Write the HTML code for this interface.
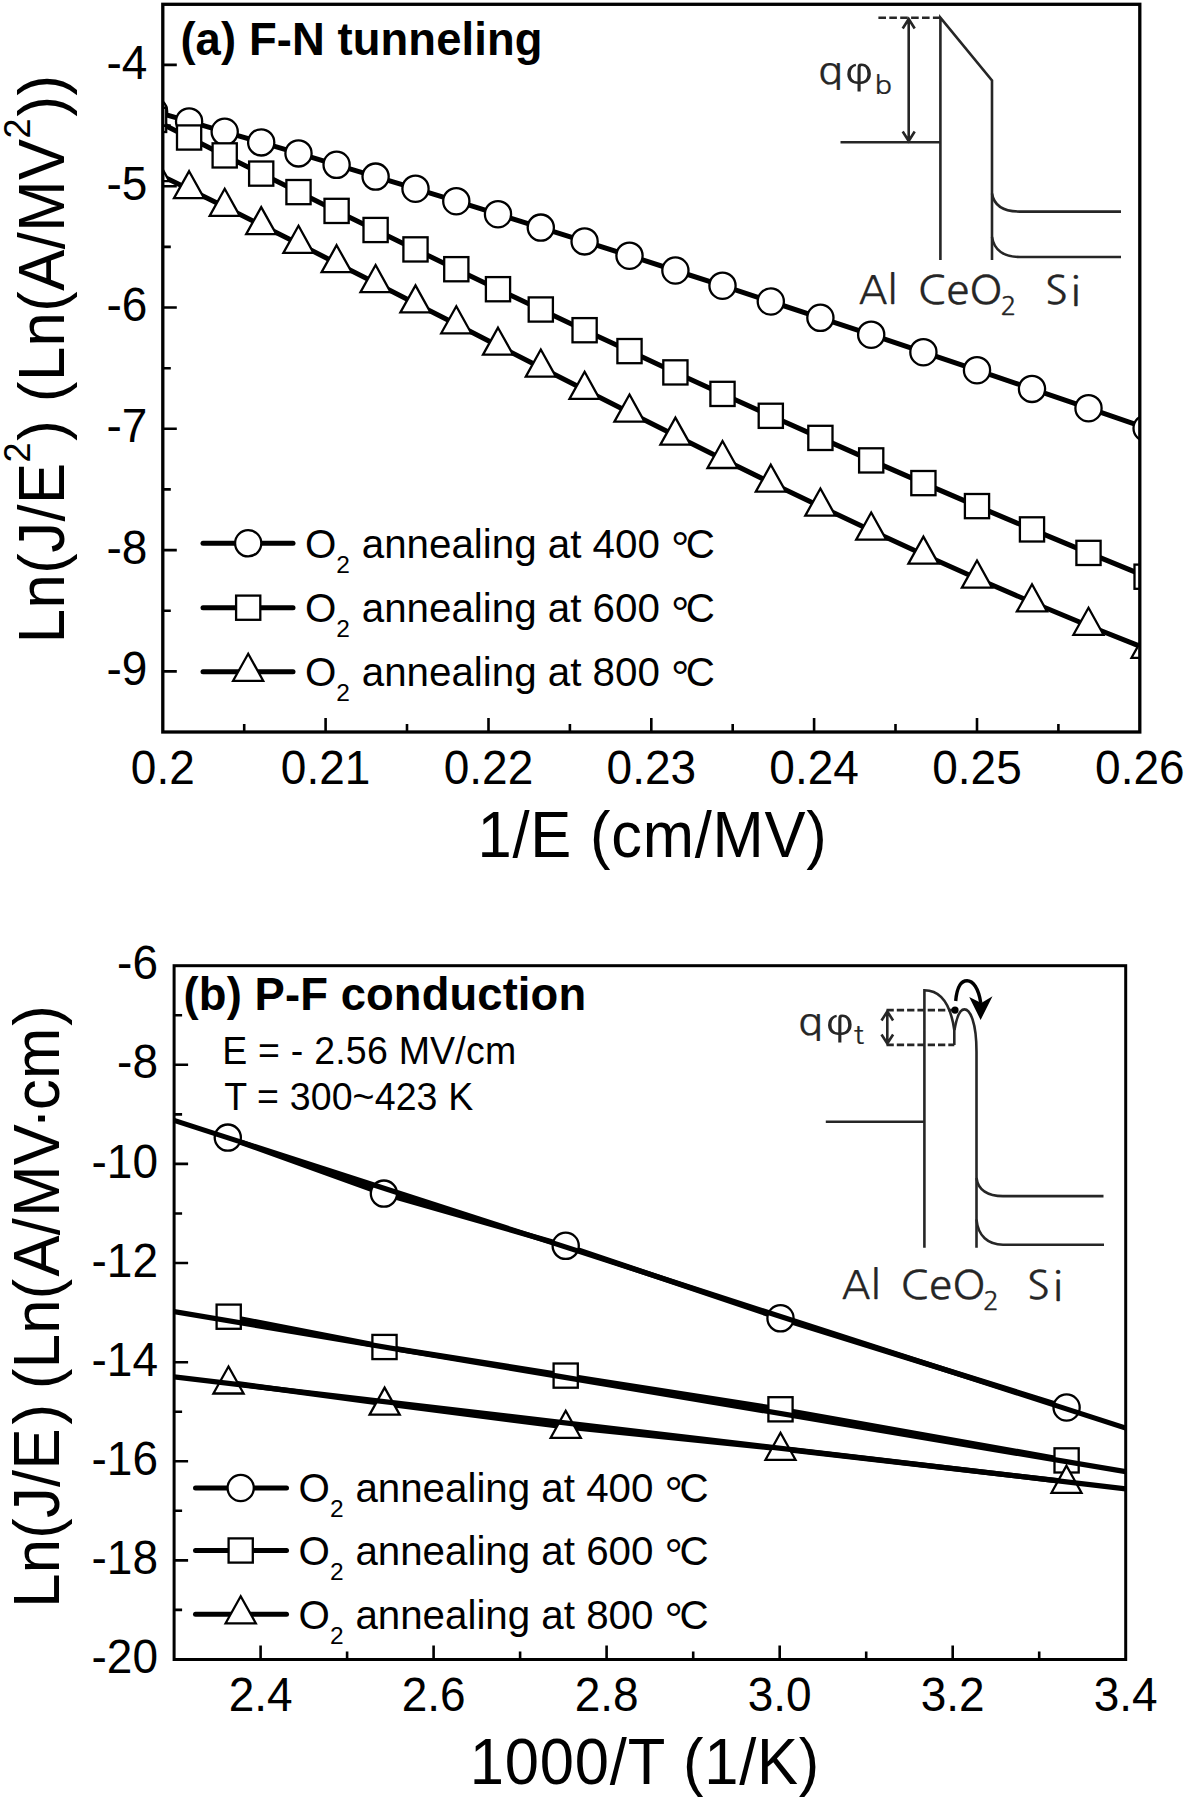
<!DOCTYPE html>
<html lang="en"><head><meta charset="utf-8"><title>F-N tunneling and P-F conduction plots</title>
<style>html,body{margin:0;padding:0;background:#fff}svg{display:block}</style></head>
<body>
<svg width="1186" height="1800" viewBox="0 0 1186 1800">
<defs>
<clipPath id="ca"><rect x="162.8" y="4.3" width="977.0" height="727.7"/></clipPath>
<clipPath id="cb"><rect x="174.1" y="965.7" width="951.6" height="693.8"/></clipPath>
</defs>
<rect width="1186" height="1800" fill="#fff"/>
<g clip-path="url(#ca)">
<polyline points="154.1,111.4 189.1,121.4 224.7,131.8 261.2,142.4 298.5,153.4 336.6,164.8 375.6,176.6 415.5,188.7 456.3,201.2 498.0,214.2 540.8,227.6 584.6,241.4 629.5,255.7 675.4,270.5 722.5,285.7 770.8,301.5 820.4,317.8 871.2,334.7 923.4,352.2 977.0,370.2 1032.0,388.9 1088.5,408.2 1146.6,428.2" fill="none" stroke="#000" stroke-width="5.0" stroke-linejoin="round"/>
<circle cx="154.1" cy="111.4" r="13.1" fill="#fff" stroke="#000" stroke-width="2.3"/>
<circle cx="189.1" cy="121.4" r="13.1" fill="#fff" stroke="#000" stroke-width="2.3"/>
<circle cx="224.7" cy="131.8" r="13.1" fill="#fff" stroke="#000" stroke-width="2.3"/>
<circle cx="261.2" cy="142.4" r="13.1" fill="#fff" stroke="#000" stroke-width="2.3"/>
<circle cx="298.5" cy="153.4" r="13.1" fill="#fff" stroke="#000" stroke-width="2.3"/>
<circle cx="336.6" cy="164.8" r="13.1" fill="#fff" stroke="#000" stroke-width="2.3"/>
<circle cx="375.6" cy="176.6" r="13.1" fill="#fff" stroke="#000" stroke-width="2.3"/>
<circle cx="415.5" cy="188.7" r="13.1" fill="#fff" stroke="#000" stroke-width="2.3"/>
<circle cx="456.3" cy="201.2" r="13.1" fill="#fff" stroke="#000" stroke-width="2.3"/>
<circle cx="498.0" cy="214.2" r="13.1" fill="#fff" stroke="#000" stroke-width="2.3"/>
<circle cx="540.8" cy="227.6" r="13.1" fill="#fff" stroke="#000" stroke-width="2.3"/>
<circle cx="584.6" cy="241.4" r="13.1" fill="#fff" stroke="#000" stroke-width="2.3"/>
<circle cx="629.5" cy="255.7" r="13.1" fill="#fff" stroke="#000" stroke-width="2.3"/>
<circle cx="675.4" cy="270.5" r="13.1" fill="#fff" stroke="#000" stroke-width="2.3"/>
<circle cx="722.5" cy="285.7" r="13.1" fill="#fff" stroke="#000" stroke-width="2.3"/>
<circle cx="770.8" cy="301.5" r="13.1" fill="#fff" stroke="#000" stroke-width="2.3"/>
<circle cx="820.4" cy="317.8" r="13.1" fill="#fff" stroke="#000" stroke-width="2.3"/>
<circle cx="871.2" cy="334.7" r="13.1" fill="#fff" stroke="#000" stroke-width="2.3"/>
<circle cx="923.4" cy="352.2" r="13.1" fill="#fff" stroke="#000" stroke-width="2.3"/>
<circle cx="977.0" cy="370.2" r="13.1" fill="#fff" stroke="#000" stroke-width="2.3"/>
<circle cx="1032.0" cy="388.9" r="13.1" fill="#fff" stroke="#000" stroke-width="2.3"/>
<circle cx="1088.5" cy="408.2" r="13.1" fill="#fff" stroke="#000" stroke-width="2.3"/>
<circle cx="1146.6" cy="428.2" r="13.1" fill="#fff" stroke="#000" stroke-width="2.3"/>
<polyline points="154.1,119.9 189.1,137.5 224.7,155.4 261.2,173.6 298.5,192.1 336.6,210.9 375.6,230.0 415.5,249.4 456.3,269.2 498.0,289.2 540.8,309.5 584.6,330.2 629.5,351.1 675.4,372.4 722.5,393.9 770.8,415.8 820.4,437.9 871.2,460.4 923.4,483.1 977.0,506.1 1032.0,529.4 1088.5,552.9 1146.6,576.7" fill="none" stroke="#000" stroke-width="5.0" stroke-linejoin="round"/>
<rect x="142.0" y="107.8" width="24.2" height="24.2" fill="#fff" stroke="#000" stroke-width="2.3"/>
<rect x="177.0" y="125.4" width="24.2" height="24.2" fill="#fff" stroke="#000" stroke-width="2.3"/>
<rect x="212.6" y="143.3" width="24.2" height="24.2" fill="#fff" stroke="#000" stroke-width="2.3"/>
<rect x="249.1" y="161.5" width="24.2" height="24.2" fill="#fff" stroke="#000" stroke-width="2.3"/>
<rect x="286.4" y="180.0" width="24.2" height="24.2" fill="#fff" stroke="#000" stroke-width="2.3"/>
<rect x="324.5" y="198.8" width="24.2" height="24.2" fill="#fff" stroke="#000" stroke-width="2.3"/>
<rect x="363.5" y="217.9" width="24.2" height="24.2" fill="#fff" stroke="#000" stroke-width="2.3"/>
<rect x="403.4" y="237.3" width="24.2" height="24.2" fill="#fff" stroke="#000" stroke-width="2.3"/>
<rect x="444.2" y="257.1" width="24.2" height="24.2" fill="#fff" stroke="#000" stroke-width="2.3"/>
<rect x="485.9" y="277.1" width="24.2" height="24.2" fill="#fff" stroke="#000" stroke-width="2.3"/>
<rect x="528.7" y="297.4" width="24.2" height="24.2" fill="#fff" stroke="#000" stroke-width="2.3"/>
<rect x="572.5" y="318.1" width="24.2" height="24.2" fill="#fff" stroke="#000" stroke-width="2.3"/>
<rect x="617.4" y="339.0" width="24.2" height="24.2" fill="#fff" stroke="#000" stroke-width="2.3"/>
<rect x="663.3" y="360.3" width="24.2" height="24.2" fill="#fff" stroke="#000" stroke-width="2.3"/>
<rect x="710.4" y="381.8" width="24.2" height="24.2" fill="#fff" stroke="#000" stroke-width="2.3"/>
<rect x="758.7" y="403.7" width="24.2" height="24.2" fill="#fff" stroke="#000" stroke-width="2.3"/>
<rect x="808.3" y="425.8" width="24.2" height="24.2" fill="#fff" stroke="#000" stroke-width="2.3"/>
<rect x="859.1" y="448.3" width="24.2" height="24.2" fill="#fff" stroke="#000" stroke-width="2.3"/>
<rect x="911.3" y="471.0" width="24.2" height="24.2" fill="#fff" stroke="#000" stroke-width="2.3"/>
<rect x="964.9" y="494.0" width="24.2" height="24.2" fill="#fff" stroke="#000" stroke-width="2.3"/>
<rect x="1019.9" y="517.3" width="24.2" height="24.2" fill="#fff" stroke="#000" stroke-width="2.3"/>
<rect x="1076.4" y="540.8" width="24.2" height="24.2" fill="#fff" stroke="#000" stroke-width="2.3"/>
<rect x="1134.5" y="564.6" width="24.2" height="24.2" fill="#fff" stroke="#000" stroke-width="2.3"/>
<polyline points="154.1,172.1 189.1,189.2 224.7,206.8 261.2,225.1 298.5,243.8 336.6,263.2 375.6,283.0 415.5,303.4 456.3,324.3 498.0,345.7 540.8,367.5 584.6,389.8 629.5,412.5 675.4,435.6 722.5,459.0 770.8,482.7 820.4,506.5 871.2,530.5 923.4,554.6 977.0,578.5 1032.0,602.3 1088.5,625.8 1146.6,648.8" fill="none" stroke="#000" stroke-width="5.0" stroke-linejoin="round"/>
<path d="M154.1 154.1L169.2 181.1L139.1 181.1Z" fill="#fff" stroke="#000" stroke-width="2.3" stroke-linejoin="miter"/>
<path d="M189.1 171.2L204.1 198.2L174.0 198.2Z" fill="#fff" stroke="#000" stroke-width="2.3" stroke-linejoin="miter"/>
<path d="M224.7 188.8L239.8 215.9L209.7 215.9Z" fill="#fff" stroke="#000" stroke-width="2.3" stroke-linejoin="miter"/>
<path d="M261.2 207.1L276.3 234.1L246.2 234.1Z" fill="#fff" stroke="#000" stroke-width="2.3" stroke-linejoin="miter"/>
<path d="M298.5 225.8L313.5 252.9L283.4 252.9Z" fill="#fff" stroke="#000" stroke-width="2.3" stroke-linejoin="miter"/>
<path d="M336.6 245.2L351.7 272.2L321.6 272.2Z" fill="#fff" stroke="#000" stroke-width="2.3" stroke-linejoin="miter"/>
<path d="M375.6 265.0L390.6 292.1L360.5 292.1Z" fill="#fff" stroke="#000" stroke-width="2.3" stroke-linejoin="miter"/>
<path d="M415.5 285.4L430.5 312.4L400.4 312.4Z" fill="#fff" stroke="#000" stroke-width="2.3" stroke-linejoin="miter"/>
<path d="M456.3 306.3L471.3 333.3L441.2 333.3Z" fill="#fff" stroke="#000" stroke-width="2.3" stroke-linejoin="miter"/>
<path d="M498.0 327.7L513.1 354.7L483.0 354.7Z" fill="#fff" stroke="#000" stroke-width="2.3" stroke-linejoin="miter"/>
<path d="M540.8 349.5L555.9 376.6L525.8 376.6Z" fill="#fff" stroke="#000" stroke-width="2.3" stroke-linejoin="miter"/>
<path d="M584.6 371.8L599.6 398.9L569.5 398.9Z" fill="#fff" stroke="#000" stroke-width="2.3" stroke-linejoin="miter"/>
<path d="M629.5 394.5L644.5 421.6L614.4 421.6Z" fill="#fff" stroke="#000" stroke-width="2.3" stroke-linejoin="miter"/>
<path d="M675.4 417.6L690.5 444.6L660.4 444.6Z" fill="#fff" stroke="#000" stroke-width="2.3" stroke-linejoin="miter"/>
<path d="M722.5 441.0L737.6 468.0L707.5 468.0Z" fill="#fff" stroke="#000" stroke-width="2.3" stroke-linejoin="miter"/>
<path d="M770.8 464.7L785.9 491.7L755.8 491.7Z" fill="#fff" stroke="#000" stroke-width="2.3" stroke-linejoin="miter"/>
<path d="M820.4 488.5L835.4 515.6L805.3 515.6Z" fill="#fff" stroke="#000" stroke-width="2.3" stroke-linejoin="miter"/>
<path d="M871.2 512.5L886.3 539.6L856.2 539.6Z" fill="#fff" stroke="#000" stroke-width="2.3" stroke-linejoin="miter"/>
<path d="M923.4 536.6L938.5 563.6L908.4 563.6Z" fill="#fff" stroke="#000" stroke-width="2.3" stroke-linejoin="miter"/>
<path d="M977.0 560.5L992.0 587.6L961.9 587.6Z" fill="#fff" stroke="#000" stroke-width="2.3" stroke-linejoin="miter"/>
<path d="M1032.0 584.3L1047.0 611.4L1016.9 611.4Z" fill="#fff" stroke="#000" stroke-width="2.3" stroke-linejoin="miter"/>
<path d="M1088.5 607.8L1103.5 634.8L1073.4 634.8Z" fill="#fff" stroke="#000" stroke-width="2.3" stroke-linejoin="miter"/>
<path d="M1146.6 630.8L1161.6 657.8L1131.5 657.8Z" fill="#fff" stroke="#000" stroke-width="2.3" stroke-linejoin="miter"/>
</g>
<rect x="162.8" y="4.3" width="977.0" height="727.7" fill="none" stroke="#000" stroke-width="3.3"/>
<path d="M162.8 671.4h14M162.8 550.1h14M162.8 428.8h14M162.8 307.5h14M162.8 186.2h14M162.8 64.9h14M162.8 610.7h8M162.8 489.4h8M162.8 368.2h8M162.8 246.9h8M162.8 125.6h8M325.6 732.0v-14M488.5 732.0v-14M651.3 732.0v-14M814.1 732.0v-14M977.0 732.0v-14M244.2 732.0v-8M407.0 732.0v-8M569.9 732.0v-8M732.7 732.0v-8M895.5 732.0v-8M1058.4 732.0v-8" stroke="#000" stroke-width="2.6" fill="none"/>
<g font-family="Liberation Sans, sans-serif" fill="#000">
<g text-anchor="end">
<text transform="translate(147.4 685.0) scale(1 1.04)" font-size="46" >-9</text>
<text transform="translate(147.4 563.7) scale(1 1.04)" font-size="46" >-8</text>
<text transform="translate(147.4 442.4) scale(1 1.04)" font-size="46" >-7</text>
<text transform="translate(147.4 321.1) scale(1 1.04)" font-size="46" >-6</text>
<text transform="translate(147.4 199.8) scale(1 1.04)" font-size="46" >-5</text>
<text transform="translate(147.4 78.5) scale(1 1.04)" font-size="46" >-4</text>
</g>
<g text-anchor="middle">
<text transform="translate(162.8 784.3) scale(1 1.04)" font-size="46" >0.2</text>
<text transform="translate(325.6 784.3) scale(1 1.04)" font-size="46" >0.21</text>
<text transform="translate(488.5 784.3) scale(1 1.04)" font-size="46" >0.22</text>
<text transform="translate(651.3 784.3) scale(1 1.04)" font-size="46" >0.23</text>
<text transform="translate(814.1 784.3) scale(1 1.04)" font-size="46" >0.24</text>
<text transform="translate(977.0 784.3) scale(1 1.04)" font-size="46" >0.25</text>
<text transform="translate(1139.8 784.3) scale(1 1.04)" font-size="46" >0.26</text>
</g>
<text transform="translate(180.4 54.8) scale(1 1.035)" font-size="45.4" font-weight="bold" letter-spacing="0.1">(a) F-N tunneling</text>
<text transform="translate(652.5 856.6) scale(1 1.05)" font-size="61.5" text-anchor="middle" letter-spacing="0.75">1/E (cm/MV)</text>
<text transform="translate(64.2 643.2) rotate(-90) scale(1 1.05)" font-size="61.5" letter-spacing="0.5">Ln(J/E<tspan font-size="36" dy="-32.5">2</tspan><tspan dy="32.5" dx="1.3">) (Ln(A/MV</tspan><tspan font-size="36" dy="-32.5">2</tspan><tspan dy="32.5" dx="1.3">))</tspan></text>
</g>
<path d="M203 543.3H293" stroke="#000" stroke-width="5.0" stroke-linecap="round"/>
<circle cx="248.2" cy="543.3" r="13.1" fill="#fff" stroke="#000" stroke-width="2.3"/>
<text font-family="Liberation Sans, sans-serif" font-size="40.3" x="305" y="557.5">O<tspan font-size="24.5" dy="15">2</tspan><tspan dy="-15" dx="0.6"> annealing at 400 </tspan><tspan font-size="46" dy="7.6" dx="0" letter-spacing="-3.6">°</tspan><tspan dy="-7.6">C</tspan></text>
<path d="M203 607.7H293" stroke="#000" stroke-width="5.0" stroke-linecap="round"/>
<rect x="236.1" y="595.6" width="24.2" height="24.2" fill="#fff" stroke="#000" stroke-width="2.3"/>
<text font-family="Liberation Sans, sans-serif" font-size="40.3" x="305" y="621.9">O<tspan font-size="24.5" dy="15">2</tspan><tspan dy="-15" dx="0.6"> annealing at 600 </tspan><tspan font-size="46" dy="7.6" dx="0" letter-spacing="-3.6">°</tspan><tspan dy="-7.6">C</tspan></text>
<path d="M203 671.8H293" stroke="#000" stroke-width="5.0" stroke-linecap="round"/>
<path d="M248.2 653.8L263.2 680.8L233.1 680.8Z" fill="#fff" stroke="#000" stroke-width="2.3" stroke-linejoin="miter"/>
<text font-family="Liberation Sans, sans-serif" font-size="40.3" x="305" y="686.0">O<tspan font-size="24.5" dy="15">2</tspan><tspan dy="-15" dx="0.6"> annealing at 800 </tspan><tspan font-size="46" dy="7.6" dx="0" letter-spacing="-3.6">°</tspan><tspan dy="-7.6">C</tspan></text>
<g fill="none" stroke="#262626" stroke-width="2.6">
<path d="M878.4 17.8H940.5" stroke-dasharray="7.6 3.3"/>
<path d="M940.4 260V17.7L992 80.5V260"/>
<path d="M840.5 142.2H940.4"/>
<path d="M908.7 19.5V140.5M902.7 28.5L908.7 19L914.7 28.5M902.7 131.5L908.7 141L914.7 131.5"/>
<path d="M992 193.5C994 206 1004 211.6 1020 211.6H1121"/>
<path d="M992 237C994 250 1004 257 1020 257H1121"/>
</g>
<g font-family="NanumGothic, Liberation Sans, sans-serif" fill="#262626" stroke="#262626" stroke-width="0.25">
<text transform="translate(817.8 84.2) scale(1.12 1)" font-size="37.2">q</text>
<text transform="translate(845.2 84.2) scale(0.93 1)" font-size="40" font-family="WenQuanYi Zen Hei, DejaVu Sans, sans-serif" stroke="none">φ</text>
<text transform="translate(874.8 94.0) scale(1.12 1)" font-size="25.5">b</text>
<text transform="translate(858.5 304.3) scale(1 1)" font-size="40">Al</text>
<text transform="translate(917.7 304.3) scale(1.06 1)" font-size="40">CeO</text>
<text transform="translate(1000.5 315.2) scale(1.03 1)" font-size="25.5">2</text>
<text transform="translate(1044.9 304.3) scale(1.05 1)" font-size="40" letter-spacing="2.6">Si</text>
</g>
<g clip-path="url(#cb)">
<polyline points="227.8,1137.6 383.9,1193.6 565.7,1245.8 780.5,1318.3 1066.6,1407.5" fill="none" stroke="#000" stroke-width="5.4" stroke-linejoin="round"/>
<polyline points="228.7,1316.7 384.5,1347.0 565.7,1375.6 780.5,1409.3 1066.6,1460.4" fill="none" stroke="#000" stroke-width="5.4" stroke-linejoin="round"/>
<polyline points="228.5,1382.5 384.6,1403.6 565.7,1426.8 780.5,1448.8 1066.5,1481.7" fill="none" stroke="#000" stroke-width="5.4" stroke-linejoin="round"/>
<circle cx="227.8" cy="1137.6" r="13.1" fill="#fff" stroke="#000" stroke-width="2.3"/>
<circle cx="383.9" cy="1193.6" r="13.1" fill="#fff" stroke="#000" stroke-width="2.3"/>
<circle cx="565.7" cy="1245.8" r="13.1" fill="#fff" stroke="#000" stroke-width="2.3"/>
<circle cx="780.5" cy="1318.3" r="13.1" fill="#fff" stroke="#000" stroke-width="2.3"/>
<circle cx="1066.6" cy="1407.5" r="13.1" fill="#fff" stroke="#000" stroke-width="2.3"/>
<rect x="216.6" y="1304.6" width="24.2" height="24.2" fill="#fff" stroke="#000" stroke-width="2.3"/>
<rect x="372.4" y="1334.9" width="24.2" height="24.2" fill="#fff" stroke="#000" stroke-width="2.3"/>
<rect x="553.6" y="1363.5" width="24.2" height="24.2" fill="#fff" stroke="#000" stroke-width="2.3"/>
<rect x="768.4" y="1397.2" width="24.2" height="24.2" fill="#fff" stroke="#000" stroke-width="2.3"/>
<rect x="1054.5" y="1448.3" width="24.2" height="24.2" fill="#fff" stroke="#000" stroke-width="2.3"/>
<path d="M228.5 1366.5L243.6 1393.5L213.4 1393.5Z" fill="#fff" stroke="#000" stroke-width="2.3" stroke-linejoin="miter"/>
<path d="M384.6 1387.6L399.7 1414.6L369.6 1414.6Z" fill="#fff" stroke="#000" stroke-width="2.3" stroke-linejoin="miter"/>
<path d="M565.7 1410.8L580.8 1437.8L550.7 1437.8Z" fill="#fff" stroke="#000" stroke-width="2.3" stroke-linejoin="miter"/>
<path d="M780.5 1432.8L795.5 1459.8L765.5 1459.8Z" fill="#fff" stroke="#000" stroke-width="2.3" stroke-linejoin="miter"/>
<path d="M1066.5 1465.7L1081.5 1492.8L1051.5 1492.8Z" fill="#fff" stroke="#000" stroke-width="2.3" stroke-linejoin="miter"/>
<path d="M174.1 1120.4L1125.7 1428.1" stroke="#000" stroke-width="5.2" fill="none"/>
<path d="M174.1 1311.6L1125.7 1471.6" stroke="#000" stroke-width="5.2" fill="none"/>
<path d="M174.1 1376.9L1125.7 1488.8" stroke="#000" stroke-width="5.2" fill="none"/>
</g>
<rect x="174.1" y="965.7" width="951.6" height="693.8" fill="none" stroke="#000" stroke-width="3.0"/>
<path d="M174.1 1560.4h14M174.1 1461.3h14M174.1 1362.2h14M174.1 1263.0h14M174.1 1163.9h14M174.1 1064.8h14M174.1 1609.9h8M174.1 1510.8h8M174.1 1411.7h8M174.1 1312.6h8M174.1 1213.5h8M174.1 1114.4h8M174.1 1015.3h8M260.6 1659.5v-14M433.6 1659.5v-14M606.6 1659.5v-14M779.7 1659.5v-14M952.7 1659.5v-14M347.1 1659.5v-8M520.1 1659.5v-8M693.2 1659.5v-8M866.2 1659.5v-8M1039.2 1659.5v-8" stroke="#000" stroke-width="2.6" fill="none"/>
<g font-family="Liberation Sans, sans-serif" fill="#000">
<g text-anchor="end">
<text transform="translate(158.0 1673.1) scale(1 1.04)" font-size="46" >-20</text>
<text transform="translate(158.0 1574.0) scale(1 1.04)" font-size="46" >-18</text>
<text transform="translate(158.0 1474.9) scale(1 1.04)" font-size="46" >-16</text>
<text transform="translate(158.0 1375.8) scale(1 1.04)" font-size="46" >-14</text>
<text transform="translate(158.0 1276.6) scale(1 1.04)" font-size="46" >-12</text>
<text transform="translate(158.0 1177.5) scale(1 1.04)" font-size="46" >-10</text>
<text transform="translate(158.0 1078.4) scale(1 1.04)" font-size="46" >-8</text>
<text transform="translate(158.0 979.3) scale(1 1.04)" font-size="46" >-6</text>
</g>
<g text-anchor="middle">
<text transform="translate(260.6 1711.3) scale(1 1.04)" font-size="46" >2.4</text>
<text transform="translate(433.6 1711.3) scale(1 1.04)" font-size="46" >2.6</text>
<text transform="translate(606.6 1711.3) scale(1 1.04)" font-size="46" >2.8</text>
<text transform="translate(779.7 1711.3) scale(1 1.04)" font-size="46" >3.0</text>
<text transform="translate(952.7 1711.3) scale(1 1.04)" font-size="46" >3.2</text>
<text transform="translate(1125.7 1711.3) scale(1 1.04)" font-size="46" >3.4</text>
</g>
<text transform="translate(183.6 1010.4) scale(1 1.035)" font-size="45.4" font-weight="bold" letter-spacing="0.1">(b) P-F conduction</text>
<text transform="translate(222.2 1064.3) scale(1 1.04)" font-size="37.5" letter-spacing="0.22">E = - 2.56 MV/cm</text>
<text transform="translate(224.2 1109.8) scale(1 1.04)" font-size="37.5" letter-spacing="0.13">T = 300~423 K</text>
<text transform="translate(645.0 1784.1) scale(1 1.05)" font-size="61.5" text-anchor="middle" letter-spacing="0.8">1000/T (1/K)</text>
<text transform="translate(59.3 1607.8) rotate(-90) scale(1 1.05)" font-size="61.5" letter-spacing="0.3">Ln(J/E<tspan dx="3.7">)</tspan><tspan dx="-2.5"> (Ln(</tspan><tspan dx="1.8">A/</tspan><tspan dx="1.2">MV</tspan><tspan dx="-5">·</tspan><tspan dx="-2">cm</tspan><tspan dx="1.8">)</tspan></text>
</g>
<path d="M195.5 1488H286.5" stroke="#000" stroke-width="5.0" stroke-linecap="round"/>
<circle cx="240.7" cy="1488.0" r="13.1" fill="#fff" stroke="#000" stroke-width="2.3"/>
<text font-family="Liberation Sans, sans-serif" font-size="40.3" x="298.6" y="1502.2">O<tspan font-size="24.5" dy="15">2</tspan><tspan dy="-15" dx="0.6"> annealing at 400 </tspan><tspan font-size="46" dy="7.6" dx="0" letter-spacing="-3.6">°</tspan><tspan dy="-7.6">C</tspan></text>
<path d="M195.5 1550.5H286.5" stroke="#000" stroke-width="5.0" stroke-linecap="round"/>
<rect x="228.6" y="1538.4" width="24.2" height="24.2" fill="#fff" stroke="#000" stroke-width="2.3"/>
<text font-family="Liberation Sans, sans-serif" font-size="40.3" x="298.6" y="1564.7">O<tspan font-size="24.5" dy="15">2</tspan><tspan dy="-15" dx="0.6"> annealing at 600 </tspan><tspan font-size="46" dy="7.6" dx="0" letter-spacing="-3.6">°</tspan><tspan dy="-7.6">C</tspan></text>
<path d="M195.5 1614.3H286.5" stroke="#000" stroke-width="5.0" stroke-linecap="round"/>
<path d="M240.7 1596.3L255.8 1623.3L225.6 1623.3Z" fill="#fff" stroke="#000" stroke-width="2.3" stroke-linejoin="miter"/>
<text font-family="Liberation Sans, sans-serif" font-size="40.3" x="298.6" y="1628.5">O<tspan font-size="24.5" dy="15">2</tspan><tspan dy="-15" dx="0.6"> annealing at 800 </tspan><tspan font-size="46" dy="7.6" dx="0" letter-spacing="-3.6">°</tspan><tspan dy="-7.6">C</tspan></text>
<g fill="none" stroke="#262626" stroke-width="2.6">
<path d="M924.4 1247.7V990.2C938 990.2 950 1000 954.3 1030V1044.9"/>
<path d="M954.5 1030C957 1015 960 1009.4 964.4 1009.4C970 1009.4 976.5 1022 976.5 1052V1247.7"/>
<path d="M825.8 1121.7H924.4"/>
<path d="M886.5 1010.1H952M886.5 1044.9H954.3" stroke-dasharray="7.3 3"/>
<path d="M887.3 1012V1043M881.5 1020.5L887.3 1011.5L893.1 1020.5M881.5 1034.5L887.3 1043.5L893.1 1034.5"/>
<path d="M976.5 1178C978 1190 988 1196.1 1003 1196.1H1103.5"/>
<path d="M976.5 1219.5C978 1236 988 1244.7 1003 1244.7H1104"/>
<path d="M955.7 1001C957 986 962 980.8 967.1 980.8C973 980.8 978.5 988 980.8 1003" stroke="#000" stroke-width="3.4"/>
</g>
<circle cx="955" cy="1010.1" r="3.6" fill="#000"/>
<path d="M969.2 997L981.3 1003L992.5 996.3L980.6 1020Z" fill="#000"/>
<g font-family="NanumGothic, Liberation Sans, sans-serif" fill="#262626" stroke="#262626" stroke-width="0.25">
<text transform="translate(797.8 1034.6) scale(1.12 1)" font-size="37.2">q</text>
<text transform="translate(825.9 1034.6) scale(0.93 1)" font-size="40" font-family="WenQuanYi Zen Hei, DejaVu Sans, sans-serif" stroke="none">φ</text>
<text transform="translate(853.4 1044.4) scale(1.12 1)" font-size="25.5">t</text>
<text transform="translate(841.6 1299.0) scale(1 1)" font-size="40">Al</text>
<text transform="translate(900.6 1299.0) scale(1.06 1)" font-size="40">CeO</text>
<text transform="translate(983.0 1309.9) scale(1.03 1)" font-size="25.5">2</text>
<text transform="translate(1027.1 1299.0) scale(1.05 1)" font-size="40" letter-spacing="2.6">Si</text>
</g>
</svg>
</body></html>
